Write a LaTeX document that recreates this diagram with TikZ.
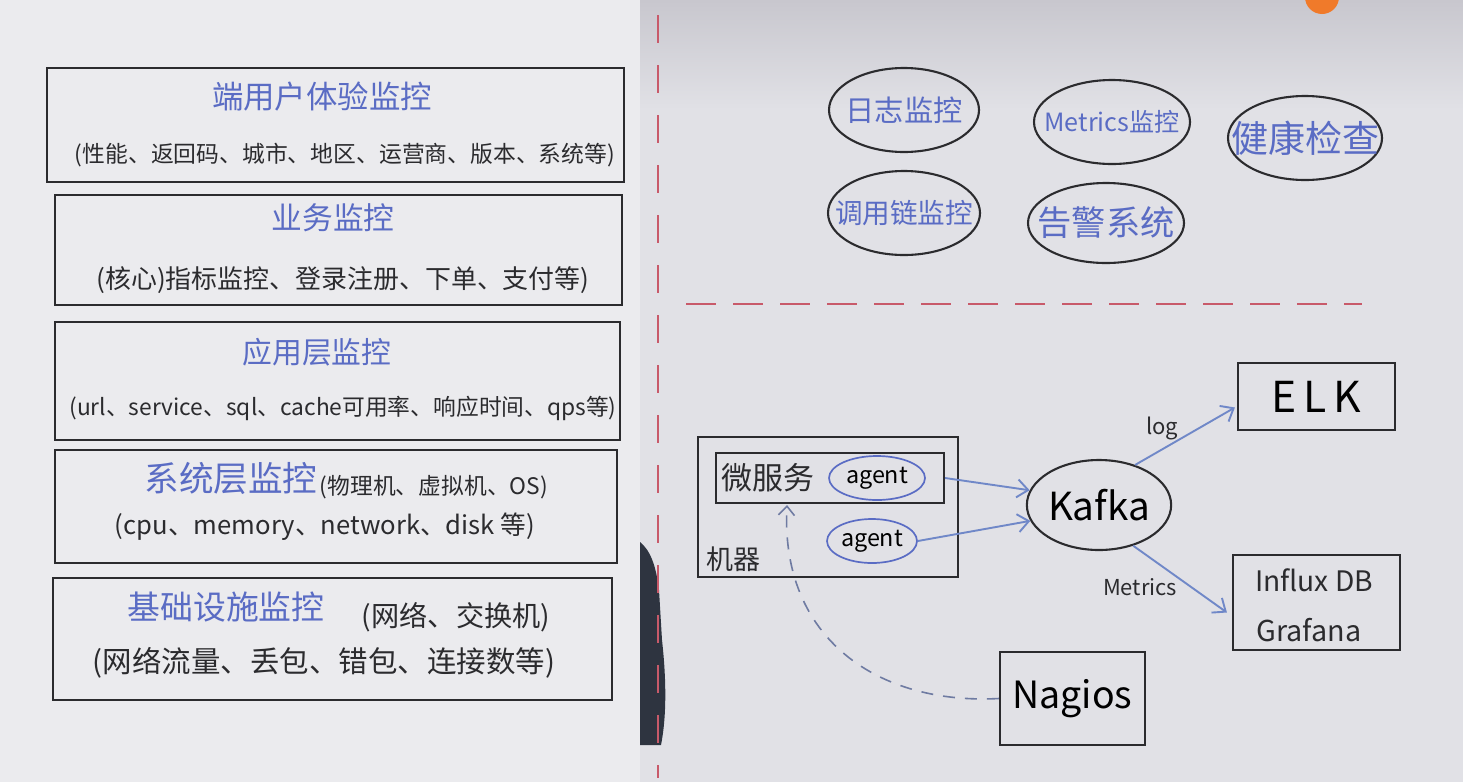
\documentclass[tikz,border=0pt]{standalone}
\usepackage{fontspec}
\setmainfont{Noto Sans CJK SC}
\usetikzlibrary{arrows.meta,shapes.geometric,calc}
\definecolor{ink}{HTML}{2B2B2E}
\definecolor{blueink}{HTML}{5A6CC4}
\definecolor{arrowblue}{HTML}{7088C8}
\definecolor{dashblue}{HTML}{6F7BA2}
\definecolor{redink}{HTML}{C85A6A}
\definecolor{bgleft}{HTML}{EBEBEE}
\definecolor{bgright}{HTML}{E1E1E6}
\definecolor{bgtop}{HTML}{C8C7CE}
\definecolor{sleeve}{HTML}{2E3440}
\definecolor{orangedot}{HTML}{F07A2A}
\newcommand{\fitto}[2]{\resizebox{#1pt}{!}{#2}}
\begin{document}
\begin{tikzpicture}[x=1pt,y=-1pt,
  inkbox/.style={draw=ink, line width=2.2pt, inner sep=0pt},
  bubble/.style={ellipse, draw=ink, line width=2.1pt, inner sep=0pt},
  agentbub/.style={ellipse, draw=blueink, line width=1.7pt, inner sep=0pt, minimum height=44pt},
  lbl/.style={inner sep=0pt, text=ink},
  bluelbl/.style={inner sep=0pt, text=blueink},
  flow/.style={draw=arrowblue, line width=1.9pt, -{Straight Barb[length=11pt,width=18pt,line width=1.9pt]}},
  probe/.style={draw=dashblue, line width=1.6pt, dash pattern=on 12pt off 10pt, -{Straight Barb[length=9pt,width=16pt,line width=1.6pt]}},
  redsep/.style={draw=redink, line width=1.5pt}]
\useasboundingbox (0,0) rectangle (1463,782);
% backgrounds
\fill[bgleft] (0,0) rectangle (640,782);
\fill[bgright] (640,0) rectangle (1463,782);
\shade[top color=bgtop, bottom color=bgright] (640,0) rectangle (1463,110);
\begin{scope}
\clip (0,0) rectangle (1463,782);
\fill[orangedot] (1322,-3) circle (17);
\end{scope}
\fill[sleeve] (640,542) .. controls (650,550) and (656,565) .. (659,590) -- (662,640) .. controls (667,685) and (666,720) .. (661,745) -- (640,745) -- cycle;
% red separators
\draw[redsep, dash pattern=on 28pt off 22pt] (658,15) -- (658,778);
\draw[redsep, dash pattern=on 30pt off 17pt] (686,304) -- (1362,304);
% left stack
\node[inkbox, minimum width=577pt, minimum height=114pt] (b1) at (335.5,125) {};
\node[inkbox, minimum width=567pt, minimum height=110pt] (b2) at (338.5,250) {};
\node[inkbox, minimum width=565pt, minimum height=118pt] (b3) at (337.5,381) {};
\node[inkbox, minimum width=562pt, minimum height=113pt] (b4) at (336,506.5) {};
\node[inkbox, minimum width=559pt, minimum height=122pt] (b5) at (332.5,639) {};
\node[bluelbl] (t1) at (322,97) {\fitto{220}{端用户体验监控}};
\node[lbl] (s1) at (345,155) {\fitto{540}{(性能、返回码、城市、地区、运营商、版本、系统等)}};
\node[bluelbl] (t2) at (333,218) {\fitto{123}{业务监控}};
\node[lbl] (s2) at (343,280) {\fitto{493}{(核心)指标监控、登录注册、下单、支付等)}};
\node[bluelbl] (t3) at (317,352) {\fitto{149}{应用层监控}};
\node[lbl] (s3) at (343,408) {\fitto{547}{(url、service、sql、cache可用率、响应时间、qps等)}};
\node[bluelbl] (t4) at (231,478) {\fitto{173}{系统层监控}};
\node[lbl] (p4) at (434,487) {\fitto{228}{(物理机、虚拟机、OS)}};
\node[lbl] (s4) at (325,527) {\fitto{420}{(cpu、memory、network、disk 等)}};
\node[bluelbl] (t5) at (226,607) {\fitto{197}{基础设施监控}};
\node[lbl] (p5) at (456,617) {\fitto{188}{(网络、交换机)}};
\node[lbl] (s5) at (324,663) {\fitto{462}{(网络流量、丢包、错包、连接数等)}};
% monitoring bubbles
\node[bubble, minimum width=150pt, minimum height=84pt] (e1) at (904,110) {};
\node[bluelbl] at (e1) {\fitto{117}{日志监控}};
\node[bubble, minimum width=156pt, minimum height=84pt] (e2) at (1112,122) {};
\node[bluelbl] at (e2) {\fitto{135}{Metrics监控}};
\node[bubble, minimum width=154pt, minimum height=84pt] (e3) at (1305,138) {};
\node[bluelbl] at (e3) {\fitto{148}{健康检查}};
\node[bubble, minimum width=152pt, minimum height=84pt] (e4) at (904,213) {};
\node[bluelbl] at (e4) {\fitto{138}{调用链监控}};
\node[bubble, minimum width=156pt, minimum height=80pt] (e5) at (1106,223) {};
\node[bluelbl] at (e5) {\fitto{137}{告警系统}};
% architecture
\node[inkbox, minimum width=260pt, minimum height=140pt] (mach) at (828,507) {};
\node[lbl, anchor=south west] (machl) at (706,572) {\fitto{54}{机器}};
\node[inkbox, minimum width=228pt, minimum height=50pt] (ms) at (830,478) {};
\node[lbl] (msl) at (768,478) {\fitto{93}{微服务}};
\node[agentbub, minimum width=96pt] (ag1) at (877,478) {\fitto{62}{agent}};
\node[agentbub, minimum width=90pt] (ag2) at (872,541) {\fitto{62}{agent}};
\node[bubble, minimum width=136pt, minimum height=90pt] (kafka) at (1099,505) {\fitto{102}{Kafka}};
\node[inkbox, minimum width=157pt, minimum height=67pt] (elk) at (1316.5,396.5) {\fitto{90}{E\,L\,K}};
\node[inkbox, minimum width=167pt, minimum height=95pt] (influx) at (1316.5,602.5) {};
\node[lbl] (influxl) at (1314,580) {\fitto{118}{Influx DB}};
\node[lbl] (grafl) at (1309,630) {\fitto{105}{Grafana}};
\node[inkbox, minimum width=145pt, minimum height=93pt] (nagios) at (1072.5,698.5) {\fitto{120}{Nagios}};
\draw[flow] (ms.east) -- (kafka.168);
\draw[flow] (ag2.east) -- (kafka.193);
\draw[flow] (kafka.48) -- ($(elk.west)+(-2,11)$);
\draw[flow] (kafka.-50) -- ($(influx.west)+(-5,10)$);
\node[lbl] (logl) at (1162,428) {\fitto{32}{log}};
\node[lbl] (metl) at (1140,587) {\fitto{74}{Metrics}};
\draw[probe] (nagios.west) .. controls (880,705) and (780,640) .. (787,505);
\end{tikzpicture}
\end{document}
